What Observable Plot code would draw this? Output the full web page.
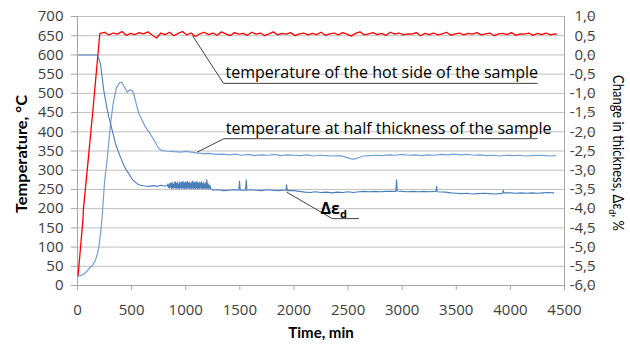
<!DOCTYPE html>
<html>
<head>
<meta charset="utf-8">
<script src="https://cdn.jsdelivr.net/npm/d3@7"></script>
<script src="https://cdn.jsdelivr.net/npm/@observablehq/plot@0.6"></script>
<style>
  html, body { margin: 0; padding: 0; background: #ffffff; }
  #chart { width: 630px; height: 346px; }
</style>
</head>
<body>
<div id="chart"></div>
<script>
// ---- tick values ----
const xTicks = [0, 500, 1000, 1500, 2000, 2500, 3000, 3500, 4000, 4500];
const yTicks = [0, 50, 100, 150, 200, 250, 300, 350, 400, 450, 500, 550, 600, 650, 700];

// ---- temperature of the hot side (°C) ----
const hotTime = [5, 50, 55, 100, 150, 206,
  210, 250, 290, 330, 370, 410, 450, 490, 530, 570, 610, 650, 690, 730, 770, 810, 850, 890, 930, 970,
  1010, 1050, 1090, 1130, 1170, 1210, 1250, 1290, 1330, 1370, 1410, 1450, 1490, 1530, 1570, 1610, 1650, 1690, 1730, 1770,
  1810, 1850, 1890, 1930, 1970, 2010, 2050, 2090, 2130, 2170, 2210, 2250, 2290, 2330, 2370, 2410, 2450, 2490, 2530, 2570,
  2610, 2650, 2690, 2730, 2770, 2810, 2850, 2890, 2930, 2970, 3010, 3050, 3090, 3130, 3170, 3210, 3250, 3290, 3330, 3370,
  3410, 3450, 3490, 3530, 3570, 3610, 3650, 3690, 3730, 3770, 3810, 3850, 3890, 3930, 3970, 4010, 4050, 4090, 4130, 4170,
  4210, 4250, 4290, 4330, 4370, 4410, 4425];
const hotTemp = [25, 170, 200, 330, 480, 655,
  656, 659, 652, 657, 654, 661, 651, 656, 653, 658, 655, 660, 652, 644, 657, 653, 659, 650, 656, 661,
  652, 657, 648, 655, 659, 653, 657, 651, 660, 655, 650, 658, 654, 656, 651, 659, 654, 657, 650, 655,
  660, 652, 656, 654, 658, 650, 655, 657, 652, 656, 653, 659, 651, 655, 657, 652, 658, 654, 649, 656,
  660, 652, 655, 658, 653, 656, 651, 659, 654, 657, 652, 655, 654, 658, 650, 656, 653, 657, 652, 655,
  659, 651, 655, 657, 652, 656, 654, 658, 652, 655, 657, 650, 655, 656, 653, 658, 651, 655, 654, 657,
  651, 656, 653, 657, 652, 655, 654];

// ---- temperature at half thickness (°C) ----
const halfTime = [0, 20, 50, 80, 110, 136, 160, 180, 197, 215, 228, 250, 275, 305, 330, 360, 390, 407, 430, 459, 480, 505,
  521, 545, 567, 600, 628, 660, 690, 720, 752, 783, 820, 870, 952, 1000, 1050,
  1100, 1160, 1220, 1280, 1340, 1400, 1460, 1520, 1580, 1640, 1700, 1760, 1820, 1880, 1940, 2000, 2060, 2120, 2180, 2240,
  2300, 2360, 2420, 2480, 2520, 2560, 2600, 2640, 2700, 2760, 2820, 2880, 2940, 3000, 3060, 3120, 3180, 3240, 3300, 3360,
  3420, 3480, 3540, 3600, 3660, 3720, 3780, 3840, 3900, 3960, 4020, 4080, 4140, 4200, 4260, 4320, 4380, 4418];
const halfTemp = [25, 25, 28, 35, 45, 52, 62, 78, 100, 140, 180, 270, 330, 420, 475, 515, 528, 529, 518, 503, 509, 507,
  497, 470, 447, 428, 412, 400, 386, 372, 356, 351, 350, 349, 347, 349, 347,
  345, 343, 344, 341, 342, 340, 342, 339, 341, 338, 340, 339, 341, 338, 340, 339, 338, 340, 337, 339,
  338, 337, 338, 334, 330, 329, 333, 337, 338, 339, 338, 340, 339, 341, 339, 340, 338, 340, 339, 341,
  340, 342, 340, 341, 339, 340, 338, 339, 337, 339, 338, 339, 337, 338, 339, 338, 337, 338];

// ---- change in thickness Δε_d (%) : main trace ----
const strainTime = [10, 182, 200, 213, 243, 270, 290, 305, 330, 351, 375, 397, 420, 444, 474, 510, 551, 580, 620, 660, 700, 740, 770, 800, 830,
  1250, 1300, 1350, 1400, 1450, 1490, 1497, 1504, 1552, 1559, 1566, 1600, 1650, 1700, 1750, 1800, 1850, 1900, 1926, 1932, 1938,
  2000, 2050, 2100, 2150, 2200, 2250, 2300, 2350, 2400, 2450, 2500, 2550, 2600, 2650, 2700, 2750, 2800, 2850, 2900, 2942, 2948, 2954,
  3000, 3050, 3100, 3150, 3200, 3250, 3312, 3318, 3324, 3400, 3450, 3500, 3550, 3600, 3650, 3700, 3750, 3800, 3850, 3900, 3928, 3934, 3940,
  4000, 4050, 4100, 4150, 4200, 4250, 4300, 4350, 4400];
const strainVal = [0.0, 0.0, -0.12, -0.25, -0.93, -1.35, -1.62, -1.79, -2.07, -2.31, -2.50, -2.66, -2.82, -2.96, -3.09, -3.25, -3.35, -3.39, -3.41, -3.42, -3.40, -3.42, -3.39, -3.41, -3.40,
  -3.52, -3.51, -3.53, -3.52, -3.51, -3.52, -3.28, -3.52, -3.52, -3.25, -3.52, -3.51, -3.52, -3.53, -3.51, -3.52, -3.53, -3.52, -3.52, -3.38, -3.53,
  -3.53, -3.55, -3.57, -3.58, -3.56, -3.58, -3.57, -3.59, -3.57, -3.58, -3.56, -3.58, -3.56, -3.55, -3.56, -3.55, -3.56, -3.55, -3.55, -3.55, -3.25, -3.54,
  -3.55, -3.56, -3.55, -3.56, -3.55, -3.56, -3.55, -3.42, -3.56, -3.57, -3.59, -3.60, -3.61, -3.60, -3.62, -3.61, -3.60, -3.61, -3.62, -3.61, -3.60, -3.52, -3.59,
  -3.59, -3.60, -3.59, -3.60, -3.59, -3.60, -3.59, -3.58, -3.59];

// ---- Δε_d (%) : noisy stretch between ~835 and ~1230 min ----
const bandTime = [835, 840, 845, 850, 855, 860, 865, 870, 875, 880, 885, 890, 895, 900, 905, 910, 915, 920, 925, 930,
  935, 940, 945, 950, 955, 960, 965, 970, 975, 980, 985, 990, 995, 1000, 1005, 1010, 1015, 1020, 1025, 1030,
  1035, 1040, 1045, 1050, 1055, 1060, 1065, 1070, 1075, 1080, 1085, 1090, 1095, 1100, 1105, 1110, 1115, 1120, 1125, 1130,
  1135, 1140, 1145, 1150, 1155, 1160, 1165, 1170, 1175, 1180, 1185, 1190, 1195, 1200, 1205, 1210, 1215, 1220, 1225, 1230];
const bandVal = [-3.36, -3.45, -3.38, -3.47, -3.33, -3.44, -3.35, -3.48, -3.31, -3.46, -3.37, -3.47, -3.32, -3.45, -3.30, -3.48, -3.34, -3.46, -3.31, -3.47,
  -3.36, -3.49, -3.30, -3.45, -3.33, -3.48, -3.31, -3.46, -3.29, -3.47, -3.34, -3.48, -3.30, -3.46, -3.32, -3.49, -3.29, -3.45, -3.33, -3.48,
  -3.30, -3.47, -3.35, -3.48, -3.31, -3.46, -3.28, -3.49, -3.33, -3.47, -3.30, -3.48, -3.32, -3.46, -3.29, -3.49, -3.34, -3.47, -3.31, -3.48,
  -3.33, -3.46, -3.30, -3.49, -3.35, -3.47, -3.31, -3.48, -3.36, -3.46, -3.32, -3.49, -3.24, -3.47, -3.35, -3.48, -3.38, -3.47, -3.40, -3.48];

// ---- annotations (anchor on curve -> elbow -> end of underline), in time / °C-equivalent ----
const annoText = ["temperature of the hot side of the sample", "temperature at half thickness of the sample", "Δε"];
const annoFromT = [1063, 1106, 1932];
const annoFromV = [650, 347, 243];
const annoToT = [1349, 1352, 2354];
const annoToV = [526, 382, 174];
const annoEndT = [4251, 4251, 2600];

// ---- build tables ----
const hot = hotTime.map((t, i) => ({t, v: hotTemp[i]}));
const half = halfTime.map((t, i) => ({t, v: halfTemp[i]}));
const strain = strainTime.map((t, i) => ({t, v: strainVal[i]}))
  .concat(bandTime.map((t, i) => ({t, v: bandVal[i]})))
  .sort((a, b) => a.t - b.t);
const annos = annoText.map((s, i) => ({s, x1: annoFromT[i], y1: annoFromV[i], x2: annoToT[i], y2: annoToV[i], x3: annoEndT[i]}));

// right axis: Δε = T/100 - 6
const toRight = T => T / 100 - 6;
const fromRight = e => (e + 6) * 100;
const fmtComma = d => d.toFixed(1).replace(".", ",");

const gridColor = "#bfbfbf";
const axisColor = "#a6a6a6";
const textColor = "#404040";

const plot = Plot.plot({
  width: 630,
  height: 346,
  marginLeft: 77,
  marginRight: 66,
  marginTop: 16,
  marginBottom: 61,
  style: {fontFamily: "'Open Sans', sans-serif", fontSize: "15px", background: "#ffffff", color: textColor},
  x: {domain: [0, 4500]},
  y: {domain: [0, 700]},
  marks: [
    Plot.gridY(yTicks, {stroke: gridColor, strokeOpacity: 1, strokeWidth: 1}),
    Plot.ruleX([0, 4500], {stroke: axisColor}),
    Plot.ruleY([0], {stroke: axisColor}),
    Plot.axisX(xTicks, {tickSize: 5, tickPadding: 14, stroke: axisColor, fill: textColor, label: null, tickFormat: d => String(d)}),
    Plot.axisY(yTicks, {anchor: "left", tickSize: 6, tickPadding: 8, stroke: axisColor, fill: textColor, label: null, tickFormat: d => String(d)}),
    Plot.axisY(yTicks, {anchor: "right", tickSize: 6, tickPadding: 3, stroke: axisColor, fill: textColor, label: null,
      tickFormat: d => fmtComma(toRight(d)), textAnchor: "end", dx: 22}),
    Plot.line(hot, {x: "t", y: "v", stroke: "#ff0000", strokeWidth: 1.3}),
    Plot.line(half, {x: "t", y: "v", stroke: "#739fd6", strokeWidth: 1.2}),
    Plot.line(strain, {x: "t", y: d => fromRight(d.v), stroke: "#4a7ebb", strokeWidth: 1.1}),
    Plot.link(annos, {x1: "x1", y1: "y1", x2: "x2", y2: "y2", stroke: "#404040", strokeWidth: 1}),
    Plot.link(annos, {x1: "x2", y1: "y2", x2: "x3", y2: "y2", stroke: "#404040", strokeWidth: 1}),
    Plot.text(annos.slice(0, 2), {x: "x2", y: "y2", text: "s", textAnchor: "start", dx: 2, dy: -10, fill: "#000000", fontSize: 16})
  ]
});

const svg = d3.select(plot);
const sx = plot.scale("x"), sy = plot.scale("y");

// Δε_d annotation label
const a3 = annos[2];
const t3 = svg.append("text")
  .attr("x", sx.apply(a3.x2) + 2)
  .attr("y", sy.apply(a3.y2) - 4)
  .attr("font-family", "'Open Sans', sans-serif")
  .attr("font-size", 16)
  .attr("font-weight", "bold")
  .attr("fill", "#000");
t3.append("tspan").text(a3.s);
t3.append("tspan").attr("font-size", 11).attr("dy", 4).text("d");

// axis titles
svg.append("text")
  .attr("transform", "translate(23,154) rotate(-90)")
  .attr("text-anchor", "middle")
  .attr("dominant-baseline", "middle")
  .attr("font-family", "Lato, sans-serif")
  .attr("font-size", 15).attr("font-weight", "bold").attr("fill", "#000")
  .attr("textLength", 118).attr("lengthAdjust", "spacingAndGlyphs")
  .text("Temperature, °C");

const rt = svg.append("text")
  .attr("transform", "translate(613,153) rotate(90)")
  .attr("text-anchor", "middle")
  .attr("font-family", "Lato, sans-serif")
  .attr("font-size", 14.5).attr("fill", "#000")
  .attr("textLength", 156).attr("lengthAdjust", "spacingAndGlyphs");
rt.append("tspan").text("Change in thickness, Δε");
rt.append("tspan").attr("font-size", 10).attr("dy", 4).text("d");
rt.append("tspan").attr("dy", -4).text(", %");

svg.append("text")
  .attr("x", 321).attr("y", 338)
  .attr("text-anchor", "middle")
  .attr("font-family", "Lato, sans-serif")
  .attr("font-size", 15).attr("font-weight", "bold").attr("fill", "#000")
  .text("Time, min");

document.getElementById("chart").appendChild(plot);
</script>
</body>
</html>
